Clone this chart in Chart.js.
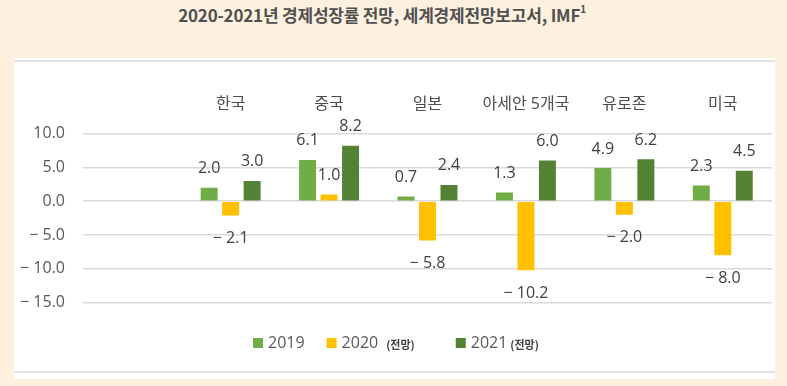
<!DOCTYPE html>
<html>
<head>
<meta charset="utf-8">
<script src="https://cdn.jsdelivr.net/npm/chart.js@4.4.0/dist/chart.umd.min.js"></script>
<style>
  html, body { margin:0; padding:0; width:787px; height:386px; overflow:hidden; background:#fdf0df; }
  #title { position:absolute; left:0; top:3px; width:764px; text-align:center;
           font-family:"Noto Sans CJK KR","Noto Sans",sans-serif; font-weight:700; font-size:17px;
           color:#505050; line-height:24px; letter-spacing:-0.2px; white-space:nowrap; }
  #title sup { font-size:10px; line-height:0; position:relative; top:-2px; }
  #panel { position:absolute; left:14px; top:58px; width:761px; height:321px; background:#ffffff; }
  .rule { position:absolute; left:14px; width:761px; height:2px; background:#e0e3e7; }
  #wrap { position:absolute; left:0; top:0; width:787px; height:386px; }
</style>
</head>
<body>
<div id="title">2020-2021년 경제성장률 전망, 세계경제전망보고서, IMF<sup>1</sup></div>
<div id="panel"></div>
<div class="rule" style="top:60px"></div>
<div class="rule" style="top:371px"></div>
<div id="wrap"><canvas id="c" width="787" height="386"></canvas></div>
<script>
// ---- data ----
const categories = ['', '한국', '중국', '일본', '아세안 5개국', '유로존', '미국'];
const growth2019 = [null, 2.0, 6.1, 0.7, 1.3, 4.9, 2.3];
const growth2020 = [null, -2.1, 1.0, -5.8, -10.2, -2.0, -8.0];
const growth2021 = [null, 3.0, 8.2, 2.4, 6.0, 6.2, 4.5];
const seriesNames = ['2019', '2020', '2021'];
const seriesNotes = ['', '(전망)', '(전망)'];
const yTickValues = [10, 5, 0, -5, -10, -15];

const colors = ['#70ad47', '#ffc000', '#548235'];
const LATIN = '"Open Sans", "Noto Sans CJK KR", sans-serif';

function fmt(v) {
  return v < 0 ? '\u2212 ' + Math.abs(v).toFixed(1) : v.toFixed(1);
}

const valueLabels = {
  id: 'valueLabels',
  afterDatasetsDraw(chart) {
    const ctx = chart.ctx;
    ctx.save();
    ctx.font = '16px ' + LATIN;
    ctx.fillStyle = '#404040';
    ctx.textAlign = 'center';
    ctx.textBaseline = 'middle';
    chart.data.datasets.forEach((ds, di) => {
      const meta = chart.getDatasetMeta(di);
      meta.data.forEach((el, i) => {
        const v = ds.data[i];
        if (v === null || v === undefined) return;
        const y = v >= 0 ? el.y - 19 : el.y + 23;
        ctx.fillText(fmt(v), el.x, y);
      });
    });
    ctx.restore();
  }
};

const customLegend = {
  id: 'customLegend',
  afterDraw(chart, args, opts) {
    const ctx = chart.ctx;
    ctx.save();
    const y = 343;
    let x = opts.startX;
    seriesNames.forEach((name, i) => {
      ctx.fillStyle = colors[i];
      ctx.fillRect(x, y - 5, 10, 10);
      x += 15;
      ctx.font = '16px ' + LATIN;
      ctx.fillStyle = '#595959';
      ctx.textAlign = 'left';
      ctx.textBaseline = 'middle';
      ctx.fillText(name, x, y);
      x += ctx.measureText(name).width;
      if (seriesNotes[i]) {
        x += opts.noteGaps[i];
        ctx.font = 'bold 11px "Noto Sans CJK KR", sans-serif';
        ctx.fillStyle = '#404040';
        ctx.fillText(seriesNotes[i], x, y + 2);
        x += ctx.measureText(seriesNotes[i]).width;
      }
      x += opts.itemGaps[i];
    });
    ctx.restore();
  }
};

new Chart(document.getElementById('c'), {
  type: 'bar',
  data: {
    labels: categories,
    datasets: [
      { label: seriesNames[0], data: growth2019, backgroundColor: colors[0] },
      { label: seriesNames[1] + ' ' + seriesNotes[1], data: growth2020, backgroundColor: colors[1] },
      { label: seriesNames[2] + ' ' + seriesNotes[2], data: growth2021, backgroundColor: colors[2] }
    ]
  },
  options: {
    responsive: false,
    animation: false,
    datasets: { bar: { categoryPercentage: 0.655, barPercentage: 0.79 } },
    layout: { padding: { left: 0, right: 15, top: 0, bottom: 83.3 } },
    plugins: {
      legend: { display: false },
      tooltip: { enabled: false },
      customLegend: { startX: 253, noteGaps: [0, 8, 3], itemGaps: [22, 41, 0] }
    },
    scales: {
      x: {
        position: 'top',
        grid: { display: false, drawTicks: false },
        border: { display: false },
        ticks: { autoSkip: false, maxRotation: 0, minRotation: 0, padding: 19,
                 color: '#4d4d4d', font: { family: LATIN, size: 16 } },
        afterFit(scale) { scale.height = 133.5; }
      },
      y: {
        min: -15, max: 10,
        afterBuildTicks(scale) { scale.ticks = yTickValues.map(v => ({ value: v })); },
        grid: { color: '#d9d9d9', lineWidth: 1.5, drawTicks: false },
        border: { display: false },
        ticks: { padding: 18, color: '#595959', font: { family: LATIN, size: 16 },
                 callback: (v) => fmt(v) },
        afterFit(scale) { scale.width = 83; }
      }
    }
  },
  plugins: [valueLabels, customLegend]
});
</script>
</body>
</html>
